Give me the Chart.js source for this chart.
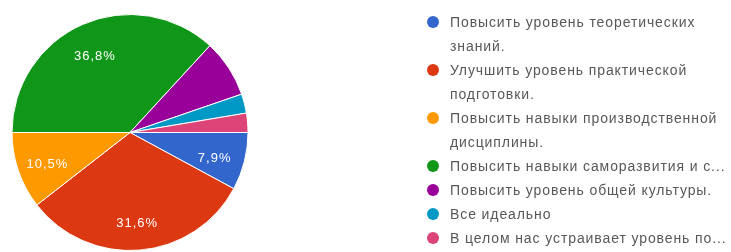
<!DOCTYPE html>
<html>
<head>
<meta charset="utf-8">
<script src="https://cdn.jsdelivr.net/npm/chart.js@4"></script>
<style>
    html, body { margin: 0; padding: 0; background: #fff; }
    #wrap { position: relative; width: 731px; height: 252px; overflow: hidden; }
    #pie { position: absolute; left: 0; top: 0; filter: blur(0.4px); }
    #legend {
        position: absolute; left: 426px; top: 10px; width: 305px;
        font-family: "Liberation Sans", Arial, sans-serif; font-size: 14px;
        letter-spacing: 0.9px;
        color: #585858; line-height: 24px; filter: blur(0.4px);
    }
    .item { position: relative; padding-left: 24px; white-space: nowrap; }
    .dot { position: absolute; left: 1px; top: 6px; width: 12px; height: 12px; border-radius: 50%; }
</style>
</head>
<body>
<div id="wrap">
    <canvas id="pie" width="731" height="252"></canvas>
    <div id="legend"></div>
</div>
<script>
// answers (legend lines), counts and slice colours
const categories = [
    ['Повысить уровень теоретических', 'знаний.'],
    ['Улучшить уровень практической', 'подготовки.'],
    ['Повысить навыки производственной', 'дисциплины.'],
    ['Повысить навыки саморазвития и с...'],
    ['Повысить уровень общей культуры.'],
    ['Все идеально'],
    ['В целом нас устраивает уровень по...']
];
const counts = [3, 12, 4, 14, 3, 1, 1];
const sliceLabels = ['7,9%', '31,6%', '10,5%', '36,8%', '', '', ''];
const colors = ['#3366cc', '#dc3912', '#ff9900', '#109618', '#990099', '#0099c6', '#dd4477'];

// white percent text inside the slices
const sliceText = {
    id: 'sliceText',
    afterDatasetsDraw(chart) {
        const ctx = chart.ctx;
        const arcs = chart.getDatasetMeta(0).data;
        ctx.save();
        ctx.fillStyle = '#ffffff';
        ctx.font = '13px "Liberation Sans", Arial, sans-serif';
        ctx.letterSpacing = '1px';
        ctx.textAlign = 'center';
        ctx.textBaseline = 'middle';
        arcs.forEach((arc, i) => {
            if (!sliceLabels[i]) return;
            const p = arc.getProps(['x', 'y', 'startAngle', 'endAngle', 'outerRadius']);
            const mid = (p.startAngle + p.endAngle) / 2;
            const r = p.outerRadius * 0.74;
            ctx.fillText(sliceLabels[i], p.x + Math.cos(mid) * r, p.y + Math.sin(mid) * r + 4);
        });
        ctx.restore();
    }
};

new Chart(document.getElementById('pie'), {
    type: 'pie',
    data: {
        labels: categories.map(c => c.join(' ')),
        datasets: [{
            data: counts,
            backgroundColor: colors,
            borderColor: '#ffffff',
            borderWidth: 1
        }]
    },
    options: {
        responsive: false,
        animation: false,
        rotation: 90,
        layout: { padding: { left: 11, top: 14, right: 482, bottom: 1 } },
        plugins: {
            legend: { display: false },
            tooltip: { enabled: false }
        }
    },
    plugins: [sliceText]
});

// legend on the right
const legend = document.getElementById('legend');
categories.forEach((lines, i) => {
    const item = document.createElement('div');
    item.className = 'item';
    const dot = document.createElement('span');
    dot.className = 'dot';
    dot.style.background = colors[i];
    item.appendChild(dot);
    lines.forEach(t => {
        const line = document.createElement('div');
        line.textContent = t;
        item.appendChild(line);
    });
    legend.appendChild(item);
});
</script>
</body>
</html>
